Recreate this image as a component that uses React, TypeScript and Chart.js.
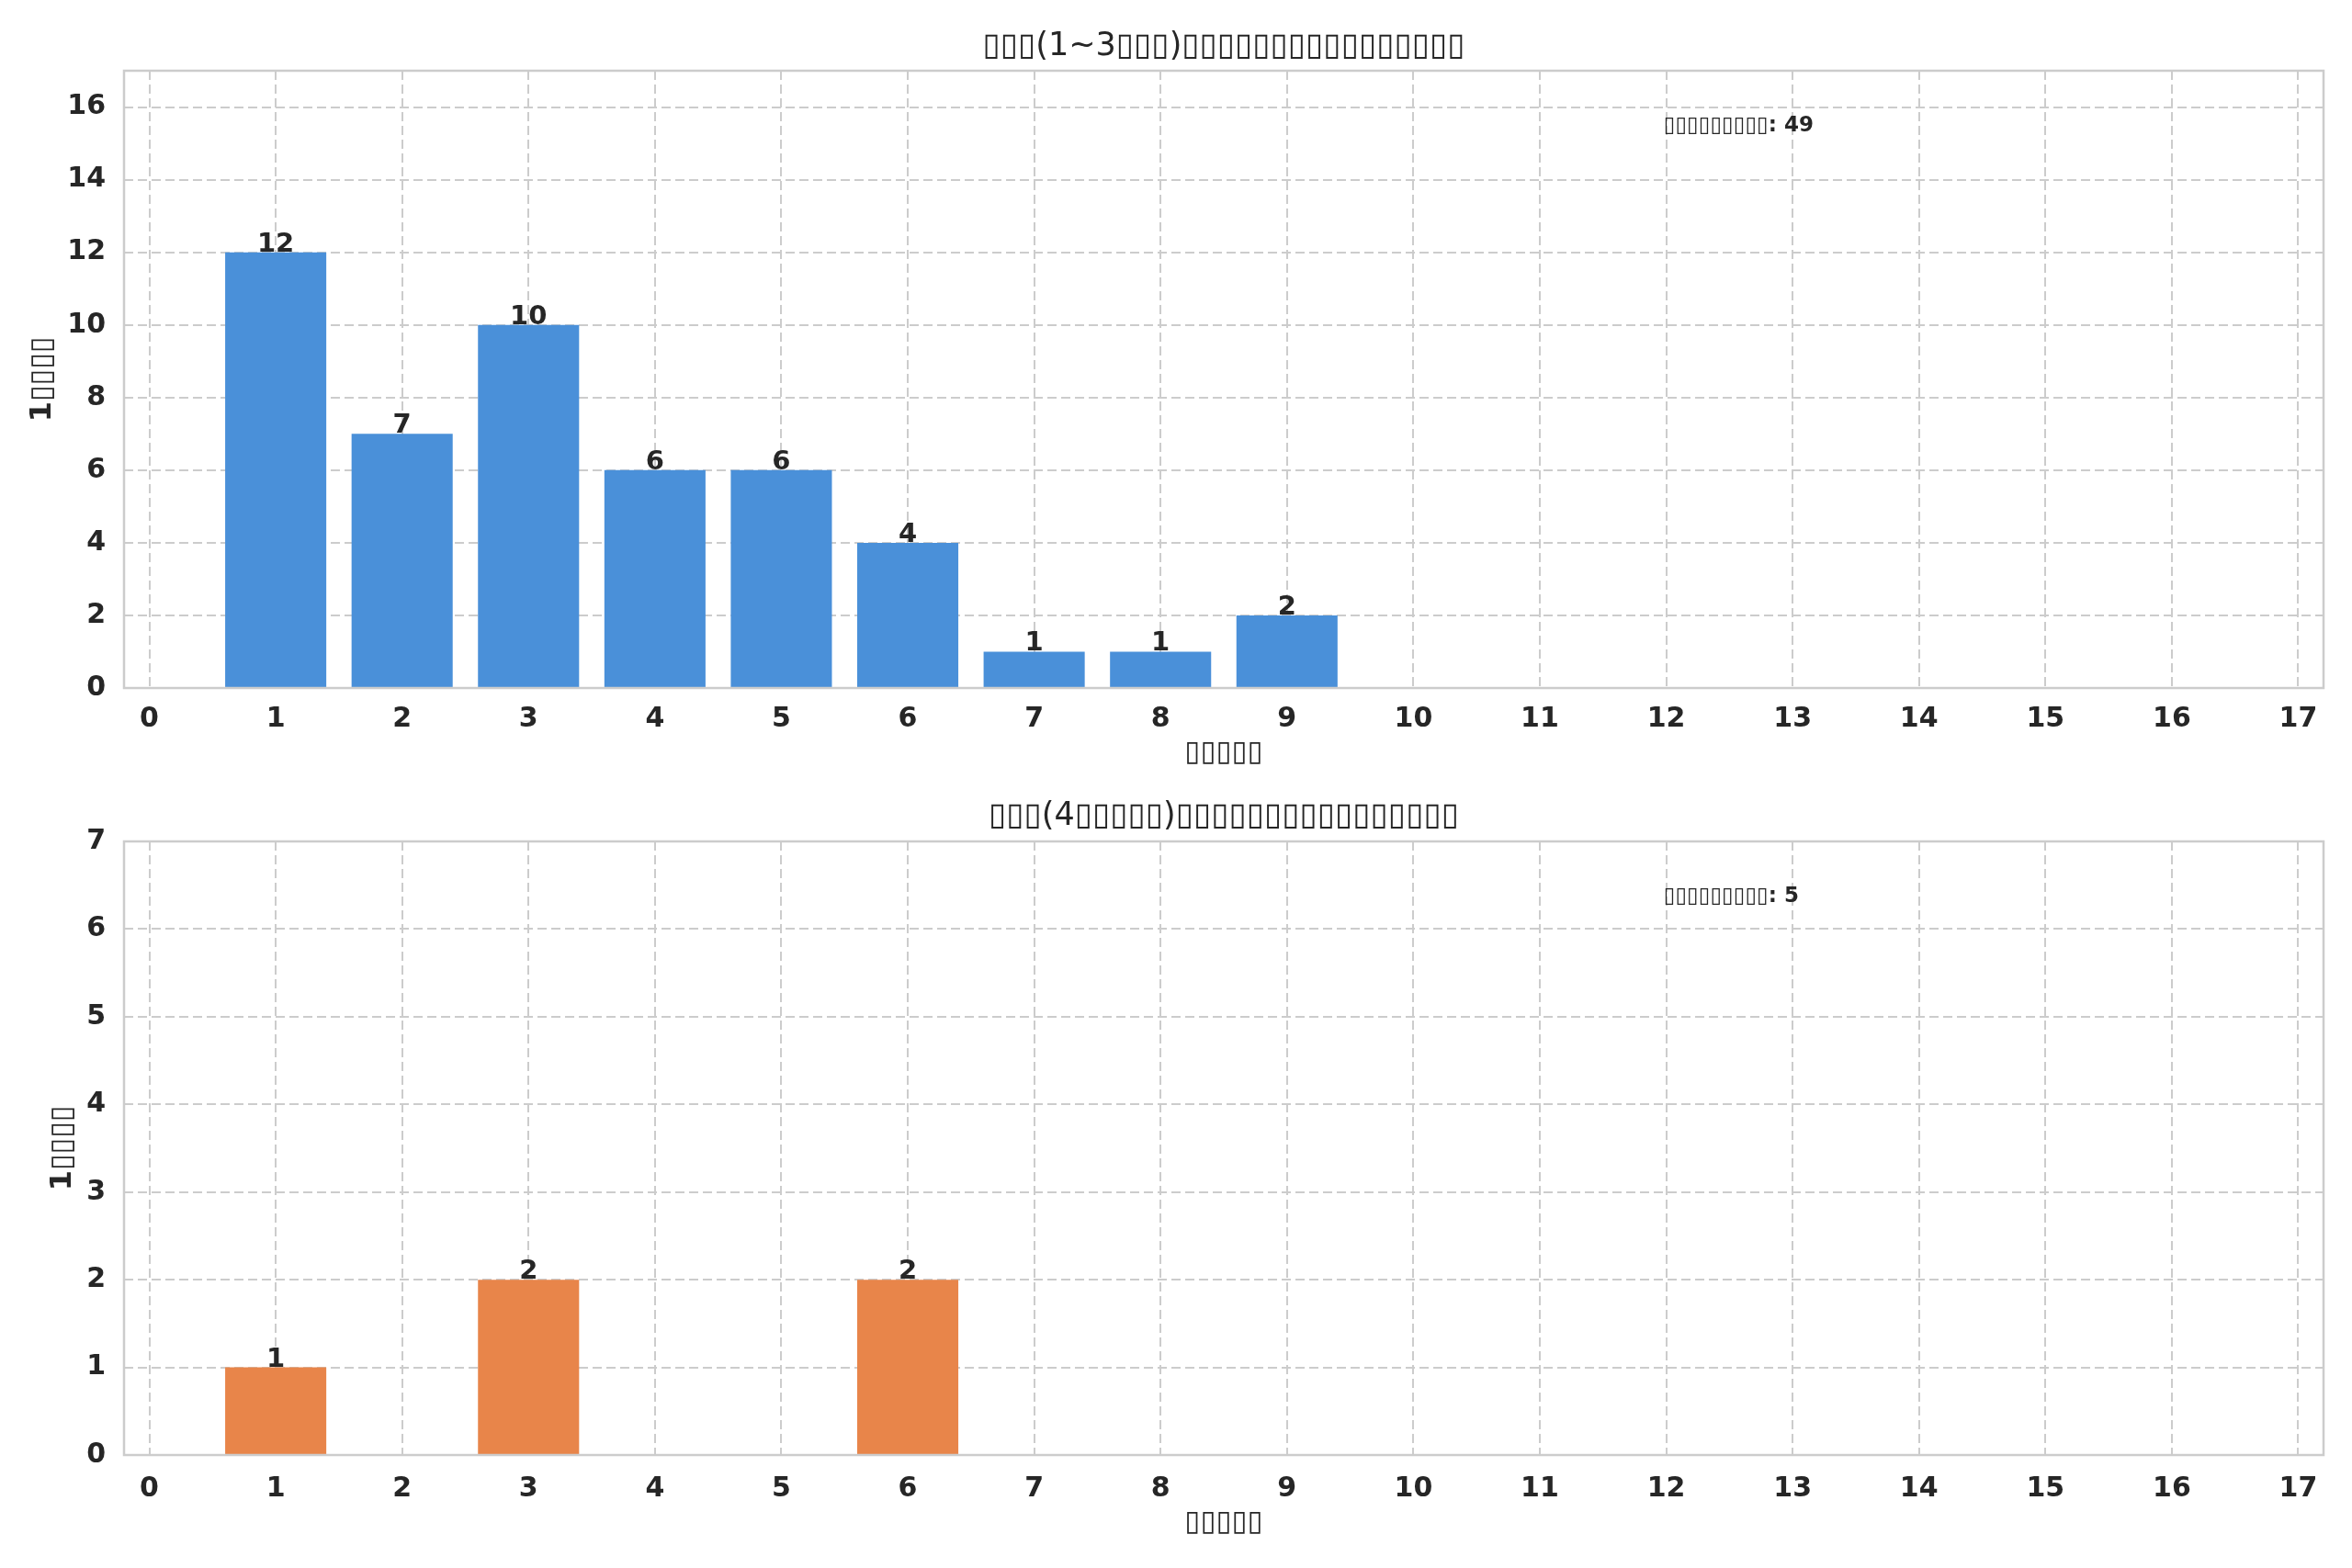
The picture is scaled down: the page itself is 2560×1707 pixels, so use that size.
import { useEffect, useRef } from 'react';
import { Chart, registerables } from 'chart.js';

Chart.register(...registerables);

// The reference renders its CJK text as missing-glyph boxes; keep them as box characters
const BOX = '\u25AF';
const boxes = (n: number) => BOX.repeat(n);

const topTitle = `${boxes(3)}(1~3${boxes(3)})${boxes(16)}`;
const bottomTitle = `${boxes(3)}(4${boxes(5)})${boxes(16)}`;
const xAxisLabel = boxes(5);
const yAxisLabel = `1${boxes(4)}`;
const totalLabel = boxes(9);

// top panel: 1~3
const topX = [1, 2, 3, 4, 5, 6, 7, 8, 9];
const topCounts = [12, 7, 10, 6, 6, 4, 1, 1, 2];

// bottom panel: 4+
const bottomX = [1, 3, 6];
const bottomCounts = [1, 2, 2];

const xTicks = [0, 1, 2, 3, 4, 5, 6, 7, 8, 9, 10, 11, 12, 13, 14, 15, 16, 17];
const topYTicks = [0, 2, 4, 6, 8, 10, 12, 14, 16];
const bottomYTicks = [0, 1, 2, 3, 4, 5, 6, 7];

const FONT = '"DejaVu Sans", sans-serif';
const TEXT = '#262626';
const GRID = '#cccccc';

const decorPlugin = {
  id: 'decor',
  afterDatasetsDraw(chart: any, _args: any, opts: any) {
    const { ctx, chartArea: a } = chart;
    ctx.save();
    // frame like seaborn whitegrid spines
    ctx.strokeStyle = GRID;
    ctx.lineWidth = 2.5;
    ctx.strokeRect(a.left, a.top, a.right - a.left, a.bottom - a.top);

    // value on top of each bar
    const meta = chart.getDatasetMeta(0);
    const data = chart.data.datasets[0].data;
    ctx.fillStyle = TEXT;
    ctx.font = `bold 29px ${FONT}`;
    ctx.textAlign = 'center';
    ctx.textBaseline = 'alphabetic';
    meta.data.forEach((bar: any, i: number) => {
      const v = data[i].y;
      if (v > 0) ctx.fillText(String(v), bar.x, bar.y - 1);
    });

    // total note
    ctx.font = `bold 23px ${FONT}`;
    ctx.textAlign = 'left';
    ctx.textBaseline = 'middle';
    ctx.fillText(
      opts.note,
      a.left + 0.7 * (a.right - a.left),
      a.top + 0.09 * (a.bottom - a.top)
    );
    ctx.restore();
  },
};

type PanelProps = {
  title: string;
  xs: number[];
  counts: number[];
  yTicks: number[];
  color: string;
  titlePad: { top: number; bottom: number };
  xHeight: number;
  xTickPad: number;
  xTitlePad: number;
  yTitlePad: number;
};

function Panel(p: PanelProps) {
  const ref = useRef<HTMLCanvasElement>(null);

  useEffect(() => {
    if (!ref.current) return;
    const total = p.counts.reduce((s, v) => s + v, 0);
    const yMax = Math.max(...p.counts) + 5;

    const chart = new Chart(ref.current, {
      type: 'bar',
      data: {
        datasets: [
          {
            data: p.xs.map((x, i) => ({ x, y: p.counts[i] })),
            backgroundColor: p.color,
            borderWidth: 0,
            barPercentage: 1,
            categoryPercentage: 0.8,
          },
        ],
      },
      options: {
        animation: false,
        responsive: true,
        maintainAspectRatio: false,
        layout: { padding: { left: 0, right: 31, top: 0, bottom: 0 } },
        plugins: {
          legend: { display: false },
          tooltip: { enabled: false },
          title: {
            display: true,
            fullSize: false,
            text: p.title,
            color: TEXT,
            font: { family: FONT, size: 35, weight: 'normal' },
            padding: p.titlePad,
          },
          // @ts-ignore
          decor: { note: `${totalLabel}: ${total}` },
        },
        scales: {
          x: {
            type: 'linear',
            min: -0.2,
            max: 17.2,
            offset: false,
            afterBuildTicks: (s: any) => {
              s.ticks = xTicks.map((value) => ({ value }));
            },
            afterFit: (s: any) => {
              s.height = p.xHeight;
            },
            ticks: {
              color: TEXT,
              font: { family: FONT, size: 30, weight: 'bold' },
              padding: p.xTickPad,
              maxRotation: 0,
              autoSkip: false,
            },
            grid: { color: GRID, lineWidth: 2, drawTicks: false, offset: false },
            border: { display: false, dash: [10, 5] },
            title: {
              display: true,
              text: xAxisLabel,
              color: TEXT,
              font: { family: FONT, size: 31, weight: 'bold' },
              padding: { top: 0, bottom: p.xTitlePad },
            },
          },
          y: {
            min: 0,
            max: yMax,
            afterBuildTicks: (s: any) => {
              s.ticks = p.yTicks.map((value) => ({ value }));
            },
            afterFit: (s: any) => {
              s.width = 135;
            },
            ticks: {
              color: TEXT,
              font: { family: FONT, size: 30, weight: 'bold' },
              padding: 20,
            },
            grid: { color: GRID, lineWidth: 2, drawTicks: false },
            border: { display: false, dash: [10, 5] },
            title: {
              display: true,
              text: yAxisLabel,
              color: TEXT,
              font: { family: FONT, size: 32, weight: 'bold' },
              padding: { top: p.yTitlePad, bottom: 0 },
            },
          },
        },
      },
      plugins: [decorPlugin],
    });

    return () => chart.destroy();
  }, []);

  return <canvas ref={ref} />;
}

export default function App() {
  return (
    <div
      style={{
        position: 'absolute',
        left: 0,
        top: 0,
        width: 2560,
        height: 1707,
        background: '#ffffff',
      }}
    >
      <div style={{ position: 'absolute', left: 0, top: 0, width: 2560, height: 853 }}>
        <Panel
          title={topTitle}
          xs={topX}
          counts={topCounts}
          yTicks={topYTicks}
          color="#4a90d9"
          titlePad={{ top: 30, bottom: 5 }}
          xHeight={104}
          xTickPad={16}
          xTitlePad={14}
          yTitlePad={27}
        />
      </div>
      <div style={{ position: 'absolute', left: 0, top: 853, width: 2560, height: 854 }}>
        <Panel
          title={bottomTitle}
          xs={bottomX}
          counts={bottomCounts}
          yTicks={bottomYTicks}
          color="#e8854a"
          titlePad={{ top: 15, bottom: 6 }}
          xHeight={123}
          xTickPad={19}
          xTitlePad={30}
          yTitlePad={49}
        />
      </div>
    </div>
  );
}
